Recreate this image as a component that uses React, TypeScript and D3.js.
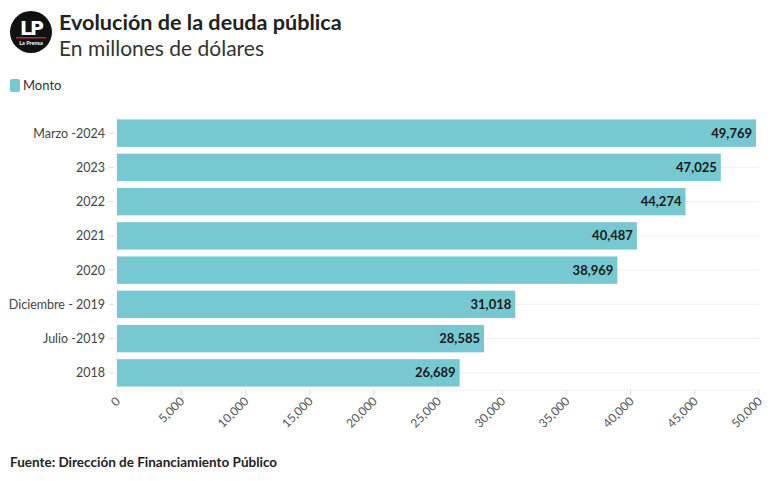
import React from "react"
import { scaleBand, scaleLinear, format } from "d3"

const categories = [
  "Marzo -2024",
  "2023",
  "2022",
  "2021",
  "2020",
  "Diciembre - 2019",
  "Julio -2019",
  "2018",
]
const montos = [49769, 47025, 44274, 40487, 38969, 31018, 28585, 26689]
const xTicks = [0, 5000, 10000, 15000, 20000, 25000, 30000, 35000, 40000, 45000, 50000]

const FONT = "Lato, 'Noto Sans', sans-serif"
const BAR = "#76c9d0"

const App = () => {
  const width = 780
  const height = 481
  const left = 117
  const right = 759
  const top = 116
  const bottom = 390

  const x = scaleLinear().domain([0, 50000]).range([left, right])
  const y = scaleBand<string>().domain(categories).range([top, bottom]).paddingInner(0.2).paddingOuter(0.1)
  const fmt = format(",")

  return (
    <svg width={width} height={height} style={{ position: "absolute", left: 0, top: 0, fontFamily: FONT }}>
      <rect width={width} height={height} fill="#fff" />
      {/* logo */}
      <circle cx={31} cy={32} r={21} fill="#111" />
      <text x={31} y={35} textAnchor="middle" fill="#fff" fontSize={19} fontWeight={900} fontFamily="'DejaVu Sans', sans-serif" letterSpacing={-2}>LP</text>
      <rect x={16} y={37} width={30} height={1.5} fill="#c0272d" />
      <text x={31} y={45} textAnchor="middle" fill="#fff" fontSize={5.5} fontWeight={700}>La Prensa</text>

      <text x={59} y={30} fontSize={21.6} fontWeight={700} fill="#222">Evolución de la deuda pública</text>
      <text x={59} y={56} fontSize={21} fill="#333">En millones de dólares</text>

      {/* legend */}
      <rect x={10} y={79} width={10} height={13} rx={2} fill={BAR} />
      <text x={23} y={90} fontSize={13} fill="#333">Monto</text>

      {/* grid */}
      <line x1={left} x2={left} y1={top} y2={bottom} stroke="#eee" />
      {categories.map((c) => {
        const cy = (y(c) ?? 0) + y.bandwidth() / 2
        return (
          <g key={c}>
            <line x1={left} x2={right} y1={cy} y2={cy} stroke="#eee" />
            <line x1={109} x2={114} y1={cy} y2={cy} stroke="#ddd" />
            <text x={105} y={cy} dy="0.35em" textAnchor="end" fontSize={12.5} fill="#444">{c}</text>
          </g>
        )
      })}
      <line x1={left} x2={right} y1={bottom} y2={bottom} stroke="#eee" />

      {/* bars */}
      {categories.map((c, i) => {
        const by = y(c) ?? 0
        return (
          <g key={c}>
            <rect x={x(0)} y={by} width={x(montos[i]) - x(0)} height={y.bandwidth()} fill={BAR} />
            <text x={x(montos[i]) - 4} y={by + y.bandwidth() / 2} dy="0.35em" textAnchor="end" fontSize={13} fontWeight={700} fill="#1a1a1a">{fmt(montos[i])}</text>
          </g>
        )
      })}

      {/* x axis */}
      {xTicks.map((t) => (
        <g key={t} transform={`translate(${x(t)},${bottom})`}>
          <line y1={0} y2={5} stroke="#ddd" />
          <text transform="translate(4,12) rotate(-45)" textAnchor="end" fontSize={12} fill="#555">{fmt(t)}</text>
        </g>
      ))}

      <text x={10} y={467} fontSize={13.5} fontWeight={700} fill="#222">Fuente: Dirección de Financiamiento Público</text>
    </svg>
  )
}

export default App
